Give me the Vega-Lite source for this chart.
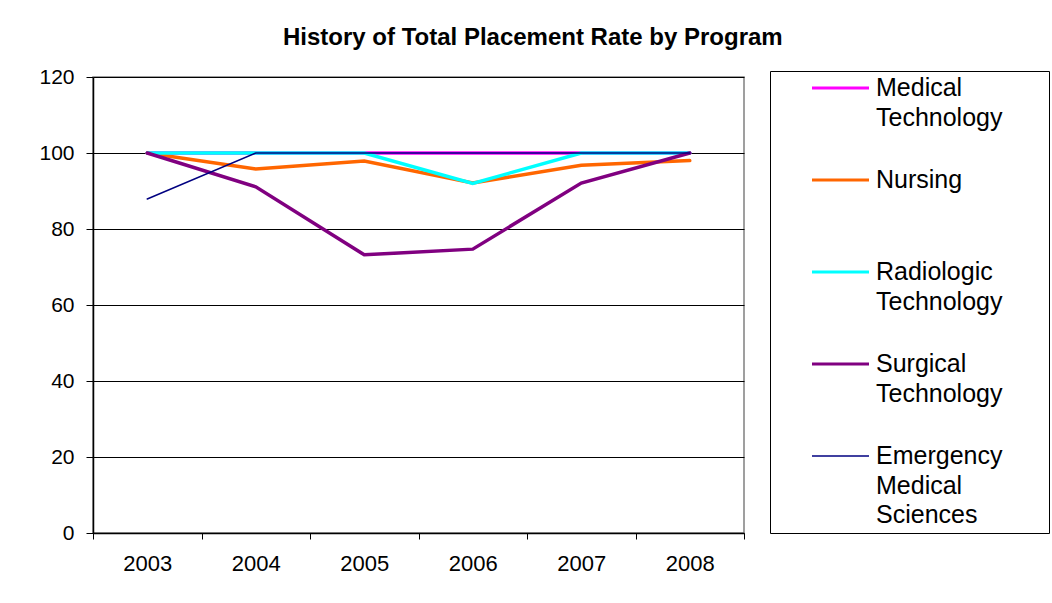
{
  "$schema": "https://vega.github.io/schema/vega-lite/v6.json",
  "width": 651,
  "height": 456,
  "padding": {"left": 93, "top": 77, "right": 308, "bottom": 70},
  "autosize": {"type": "none"},
  "background": "white",
  "title": {
    "text": "History of Total Placement Rate by Program",
    "font": "Liberation Sans",
    "fontSize": 24,
    "fontWeight": "bold",
    "color": "black",
    "anchor": "start",
    "frame": "group",
    "dx": 190,
    "offset": 16
  },
  "data": {
    "values": [
      {"program": "Medical Technology", "year": "2003", "rate": 100},
      {"program": "Medical Technology", "year": "2004", "rate": 100},
      {"program": "Medical Technology", "year": "2005", "rate": 100},
      {"program": "Medical Technology", "year": "2006", "rate": 100},
      {"program": "Medical Technology", "year": "2007", "rate": 100},
      {"program": "Medical Technology", "year": "2008", "rate": 100},
      {"program": "Nursing", "year": "2003", "rate": 100},
      {"program": "Nursing", "year": "2004", "rate": 95.8},
      {"program": "Nursing", "year": "2005", "rate": 97.9},
      {"program": "Nursing", "year": "2006", "rate": 92.1},
      {"program": "Nursing", "year": "2007", "rate": 96.8},
      {"program": "Nursing", "year": "2008", "rate": 98},
      {"program": "Radiologic Technology", "year": "2003", "rate": 100},
      {"program": "Radiologic Technology", "year": "2004", "rate": 100},
      {"program": "Radiologic Technology", "year": "2005", "rate": 100},
      {"program": "Radiologic Technology", "year": "2006", "rate": 92},
      {"program": "Radiologic Technology", "year": "2007", "rate": 100},
      {"program": "Radiologic Technology", "year": "2008", "rate": 100},
      {"program": "Surgical Technology", "year": "2003", "rate": 100},
      {"program": "Surgical Technology", "year": "2004", "rate": 91.1},
      {"program": "Surgical Technology", "year": "2005", "rate": 73.2},
      {"program": "Surgical Technology", "year": "2006", "rate": 74.7},
      {"program": "Surgical Technology", "year": "2007", "rate": 92.1},
      {"program": "Surgical Technology", "year": "2008", "rate": 100},
      {"program": "Emergency Medical Sciences", "year": "2003", "rate": 87.9},
      {"program": "Emergency Medical Sciences", "year": "2004", "rate": 100},
      {"program": "Emergency Medical Sciences", "year": "2005", "rate": 100},
      {"program": "Emergency Medical Sciences", "year": "2006", "rate": 100},
      {"program": "Emergency Medical Sciences", "year": "2007", "rate": 100},
      {"program": "Emergency Medical Sciences", "year": "2008", "rate": 100}
    ]
  },
  "encoding": {
    "x": {
      "field": "year",
      "type": "ordinal",
      "bandPosition": 0.5,
      "scale": {"type": "band", "paddingInner": 0, "paddingOuter": 0},
      "axis": {
        "title": null,
        "labelAngle": 0,
        "labelFont": "Liberation Sans",
        "labelFontSize": 22,
        "labelColor": "black",
        "labelPadding": 14,
        "tickBand": "extent",
        "tickSize": 6,
        "tickColor": "black",
        "domainColor": "black",
        "domainWidth": 1.5,
        "grid": false
      }
    },
    "y": {
      "field": "rate",
      "type": "quantitative",
      "scale": {"domain": [0, 120], "nice": false},
      "axis": {
        "title": null,
        "values": [0, 20, 40, 60, 80, 100, 120],
        "labelFont": "Liberation Sans",
        "labelFontSize": 21,
        "labelColor": "black",
        "labelPadding": 12,
        "tickSize": 7,
        "tickColor": "black",
        "domainColor": "black",
        "domainWidth": 1.5,
        "gridColor": "black",
        "gridWidth": 1,
        "gridOpacity": 1
      }
    },
    "color": {
      "field": "program",
      "type": "nominal",
      "sort": ["Medical Technology", "Nursing", "Radiologic Technology", "Surgical Technology", "Emergency Medical Sciences"],
      "scale": {
        "domain": ["Medical Technology", "Nursing", "Radiologic Technology", "Surgical Technology", "Emergency Medical Sciences"],
        "range": ["#FF00FF", "#FF6600", "#00FFFF", "#800080", "#000080"]
      },
      "legend": {
        "title": "\u00a0",
        "titleOrient": "right",
        "titleFontSize": 10,
        "titlePadding": 42,
        "orient": "none",
        "legendX": 677,
        "legendY": -6,
        "padding": 5,
        "strokeColor": "black",
        "fillColor": "white",
        "symbolType": "stroke",
        "symbolSize": 3249,
        "symbolStrokeWidth": 3,
        "symbolOffset": 53,
        "labelFont": "Liberation Sans",
        "labelFontSize": 25,
        "labelColor": "black",
        "labelOffset": 23,
        "labelLimit": 0,
        "labelBaseline": "top",
        "rowPadding": 8,
        "labelExpr": "datum.label == 'Medical Technology' ? ['Medical','Technology',' '] : datum.label == 'Nursing' ? ['Nursing',' ',' '] : datum.label == 'Radiologic Technology' ? ['Radiologic','Technology',' '] : datum.label == 'Surgical Technology' ? ['Surgical','Technology',' '] : ['Emergency','Medical','Sciences']",
        "encode": {
          "symbols": {"update": {"y": {"value": 12}, "strokeWidth": {"signal": "datum.value == 'Emergency Medical Sciences' ? 1.5 : 3"}}},
          "labels": {"update": {"y": {"value": 0}, "lineHeight": {"value": 29.5}}}
        }
      }
    }
  },
  "layer": [
    {
      "transform": [{"filter": "datum.program != 'Emergency Medical Sciences'"}],
      "mark": {"type": "line", "strokeWidth": 3.5, "strokeCap": "round"}
    },
    {
      "transform": [{"filter": "datum.program == 'Emergency Medical Sciences'"}],
      "mark": {"type": "line", "strokeWidth": 1.5, "strokeCap": "round"}
    }
  ],
  "config": {
    "view": {"stroke": "#808080", "strokeWidth": 1.5}
  }
}
